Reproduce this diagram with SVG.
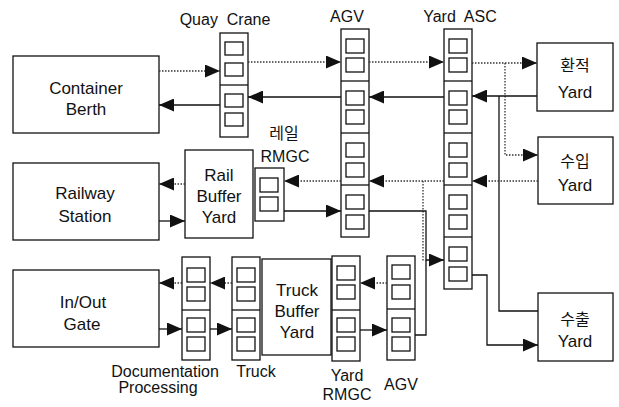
<svg xmlns="http://www.w3.org/2000/svg" width="619" height="407" viewBox="0 0 619 407">
<style>
.box{fill:#fff;stroke:#111;stroke-width:1.3}
.sq{fill:#fff;stroke:#111;stroke-width:1.3}
.sep{stroke:#111;stroke-width:1.3}
.solid{fill:none;stroke:#111;stroke-width:1.3}
.dot{fill:none;stroke:#333;stroke-width:1.3;stroke-dasharray:1.5 1.5}
text{font-family:"Liberation Sans",Arial,sans-serif;font-size:16px;fill:#111;text-anchor:middle}
.n{font-size:17px}
.kr{font-family:"Noto Sans CJK KR",sans-serif;font-size:16px}
</style>
<defs>
<marker id="ah" viewBox="0 0 15 13" refX="15" refY="6.5" markerWidth="15" markerHeight="13" markerUnits="userSpaceOnUse" orient="auto">
<path d="M0,0 L15,6.5 L0,13 z" fill="#111"/>
</marker>
</defs>

<g id="labels">
<text x="225" y="25">Quay&#160; Crane</text>
<text x="347" y="22">AGV</text>
<text x="460" y="22">Yard&#160; ASC</text>
<text class="kr" x="284" y="139">레일</text>
<text x="285" y="162">RMGC</text>
<text x="165" y="377">Documentation</text>
<text x="158" y="393">Processing</text>
<text x="256" y="377">Truck</text>
<text x="347" y="381">Yard</text>
<text x="347" y="400">RMGC</text>
<text x="401" y="390">AGV</text>
</g>

<g id="container-berth">
<rect class="box" x="13" y="56" width="146" height="77"/>
<text class="n" x="86" y="94">Container</text>
<text class="n" x="86" y="115">Berth</text>
</g>
<g id="railway-station">
<rect class="box" x="13" y="163" width="146" height="77"/>
<text class="n" x="85" y="199">Railway</text>
<text class="n" x="85" y="222">Station</text>
</g>
<g id="gate">
<rect class="box" x="13" y="270" width="146" height="77"/>
<text class="n" x="83" y="308">In/Out</text>
<text class="n" x="82" y="330">Gate</text>
</g>
<g id="rail-buffer">
<rect class="box" x="185" y="150" width="68" height="88"/>
<text class="n" x="219" y="181">Rail</text>
<text class="n" x="219" y="202">Buffer</text>
<text class="n" x="219" y="223">Yard</text>
</g>
<g id="truck-buffer">
<rect class="box" x="262" y="259" width="69" height="96"/>
<text class="n" x="297" y="296">Truck</text>
<text class="n" x="297" y="317">Buffer</text>
<text class="n" x="297" y="338">Yard</text>
</g>
<g id="yard-transship">
<rect class="box" x="537" y="43" width="76" height="68"/>
<text class="kr" x="575" y="71">환적</text>
<text class="n" x="575" y="98">Yard</text>
</g>
<g id="yard-import">
<rect class="box" x="538" y="137" width="75" height="67"/>
<text class="kr" x="575" y="167">수입</text>
<text class="n" x="575" y="191">Yard</text>
</g>
<g id="yard-export">
<rect class="box" x="538" y="293" width="75" height="68"/>
<text class="kr" x="575" y="325">수출</text>
<text class="n" x="575" y="347">Yard</text>
</g>

<g id="quay-crane">
<rect class="box" x="220" y="33" width="28" height="104"/>
<line class="sep" x1="220" y1="85" x2="248" y2="85"/>
<rect class="sq" x="225" y="42" width="18" height="13"/>
<rect class="sq" x="225" y="63" width="18" height="13"/>
<rect class="sq" x="225" y="94" width="18" height="13"/>
<rect class="sq" x="225" y="113" width="18" height="13"/>
</g>
<g id="agv-vessel">
<rect class="box" x="341" y="29" width="28" height="208"/>
<line class="sep" x1="341" y1="81" x2="369" y2="81"/>
<line class="sep" x1="341" y1="133" x2="369" y2="133"/>
<line class="sep" x1="341" y1="185" x2="369" y2="185"/>
<rect class="sq" x="346" y="39" width="18" height="14"/>
<rect class="sq" x="346" y="58" width="18" height="14"/>
<rect class="sq" x="346" y="91" width="18" height="14"/>
<rect class="sq" x="346" y="110" width="18" height="14"/>
<rect class="sq" x="346" y="143" width="18" height="14"/>
<rect class="sq" x="346" y="163" width="18" height="14"/>
<rect class="sq" x="346" y="195" width="18" height="14"/>
<rect class="sq" x="346" y="215" width="18" height="14"/>
</g>
<g id="yard-asc">
<rect class="box" x="444" y="29" width="28" height="260"/>
<line class="sep" x1="444" y1="81" x2="472" y2="81"/>
<line class="sep" x1="444" y1="133" x2="472" y2="133"/>
<line class="sep" x1="444" y1="185" x2="472" y2="185"/>
<line class="sep" x1="444" y1="237" x2="472" y2="237"/>
<rect class="sq" x="449" y="39" width="18" height="14"/>
<rect class="sq" x="449" y="58" width="18" height="14"/>
<rect class="sq" x="449" y="91" width="18" height="14"/>
<rect class="sq" x="449" y="110" width="18" height="14"/>
<rect class="sq" x="449" y="143" width="18" height="14"/>
<rect class="sq" x="449" y="163" width="18" height="14"/>
<rect class="sq" x="449" y="195" width="18" height="14"/>
<rect class="sq" x="449" y="215" width="18" height="14"/>
<rect class="sq" x="449" y="247" width="18" height="14"/>
<rect class="sq" x="449" y="267" width="18" height="14"/>
</g>
<g id="rail-rmgc">
<rect class="box" x="255" y="168" width="29" height="53"/>
<rect class="sq" x="260" y="178" width="18" height="14"/>
<rect class="sq" x="260" y="197" width="18" height="14"/>
</g>
<g id="doc-processing">
<rect class="box" x="182" y="257" width="28" height="103"/>
<line class="sep" x1="182" y1="310" x2="210" y2="310"/>
<rect class="sq" x="187" y="268" width="18" height="14"/>
<rect class="sq" x="187" y="287" width="18" height="14"/>
<rect class="sq" x="187" y="318" width="18" height="14"/>
<rect class="sq" x="187" y="337" width="18" height="14"/>
</g>
<g id="truck">
<rect class="box" x="232" y="257" width="28" height="103"/>
<line class="sep" x1="232" y1="310" x2="260" y2="310"/>
<rect class="sq" x="237" y="268" width="18" height="14"/>
<rect class="sq" x="237" y="287" width="18" height="14"/>
<rect class="sq" x="237" y="318" width="18" height="14"/>
<rect class="sq" x="237" y="337" width="18" height="14"/>
</g>
<g id="yard-rmgc">
<rect class="box" x="332" y="256" width="28" height="105"/>
<line class="sep" x1="332" y1="310" x2="360" y2="310"/>
<rect class="sq" x="337" y="266" width="18" height="14"/>
<rect class="sq" x="337" y="285" width="18" height="14"/>
<rect class="sq" x="337" y="318" width="18" height="14"/>
<rect class="sq" x="337" y="337" width="18" height="14"/>
</g>
<g id="agv-truck">
<rect class="box" x="387" y="256" width="28" height="104"/>
<line class="sep" x1="387" y1="309" x2="415" y2="309"/>
<rect class="sq" x="392" y="265" width="18" height="14"/>
<rect class="sq" x="392" y="285" width="18" height="14"/>
<rect class="sq" x="392" y="318" width="18" height="14"/>
<rect class="sq" x="392" y="337" width="18" height="14"/>
</g>

<g id="connectors">
<path class="dot" d="M159,71 H220" marker-end="url(#ah)"/>
<path class="solid" d="M220,105 H159" marker-end="url(#ah)"/>
<path class="dot" d="M248,62 H341" marker-end="url(#ah)"/>
<path class="solid" d="M341,97 H248" marker-end="url(#ah)"/>
<path class="dot" d="M369,62 H444" marker-end="url(#ah)"/>
<path class="solid" d="M444,97 H369" marker-end="url(#ah)"/>
<path class="dot" d="M472,63 H537" marker-end="url(#ah)"/>
<path class="dot" d="M505,63 V155 H538" marker-end="url(#ah)"/>
<path class="solid" d="M537,96 H472" marker-end="url(#ah)"/>
<path class="solid" d="M538,311 H499 V96"/>
<path class="dot" d="M538,181 H472" marker-end="url(#ah)"/>
<path class="dot" d="M444,181 H369" marker-end="url(#ah)"/>
<path class="dot" d="M423,181 V262"/>
<path class="dot" d="M341,181 H284" marker-end="url(#ah)"/>
<path class="dot" d="M185,184 H159" marker-end="url(#ah)"/>
<path class="solid" d="M159,221 H185" marker-end="url(#ah)"/>
<path class="solid" d="M284,211 H341" marker-end="url(#ah)"/>
<path class="solid" d="M369,211 H426 V260 H444" marker-end="url(#ah)"/>
<path class="solid" d="M415,335 H426 V260"/>
<path class="solid" d="M472,275 H487 V345 H538" marker-end="url(#ah)"/>
<path class="dot" d="M387,283 H360" marker-end="url(#ah)"/>
<path class="solid" d="M360,330 H387" marker-end="url(#ah)"/>
<path class="dot" d="M232,283 H210" marker-end="url(#ah)"/>
<path class="dot" d="M182,283 H159" marker-end="url(#ah)"/>
<path class="solid" d="M159,329 H182" marker-end="url(#ah)"/>
<path class="solid" d="M210,329 H232" marker-end="url(#ah)"/>
</g>
</svg>
